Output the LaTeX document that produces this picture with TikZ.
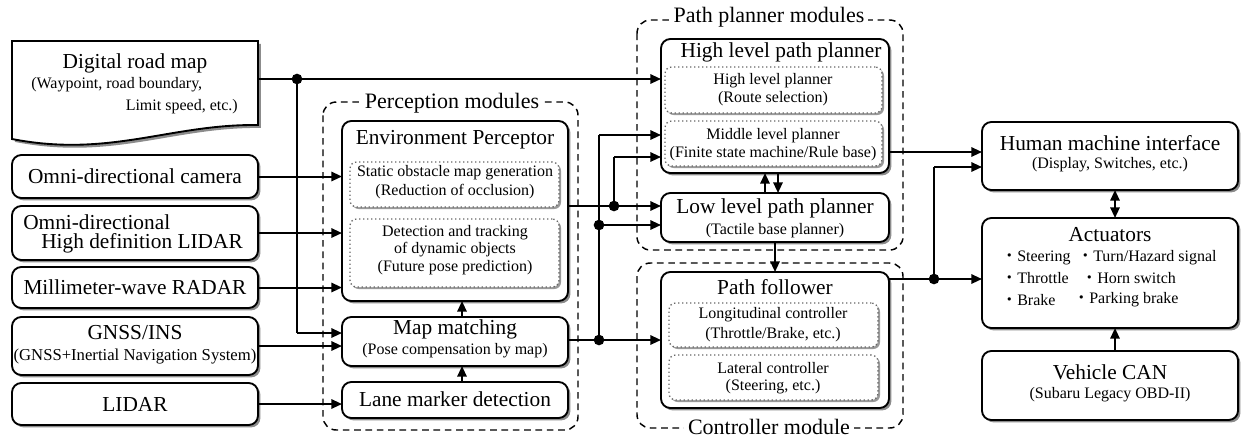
\documentclass[tikz,border=0pt]{standalone}
\usepackage{fontspec}
\setmainfont{Liberation Serif}
\newfontfamily\jfont{Noto Sans CJK JP}
\usetikzlibrary{shadows,arrows.meta,calc}
\newcommand\mybox[6]{\node[#2, anchor=north west, minimum width={(#5-#3)*0.75pt}, minimum height={(#6-#4)*0.75pt}] (#1) at (#3,#4) {};}
\begin{document}
\begin{tikzpicture}[x=0.75pt,y=-0.75pt,
 mainbox/.style={draw, line width=1.4pt, rounded corners=7pt, fill=white, inner sep=0pt, outer sep=0pt,
   drop shadow={shadow xshift=1.8pt,shadow yshift=-1.8pt,fill=black!45,opacity=1}},
 subbox/.style={draw=black!60, dotted, line width=1pt, rounded corners=5pt, fill=white, inner sep=0pt, outer sep=0pt,
   drop shadow={shadow xshift=1.5pt,shadow yshift=-1.5pt,fill=black!40,opacity=1}},
 modbox/.style={draw, line width=1.1pt, rounded corners=10pt, dash pattern=on 5pt off 3.5pt},
 modlabel/.style={fill=white, inner sep=3pt, font=\fontsize{16.5}{19}\selectfont},
 conn/.style={line width=1.5pt, -{Triangle[length=8pt,width=7pt]}},
 dconn/.style={line width=1.5pt, {Triangle[length=8pt,width=7pt]}-{Triangle[length=8pt,width=7pt]}},
 wire/.style={line width=1.5pt},
 thinwire/.style={line width=0.8pt},
 dot/.style={circle, fill, inner sep=0pt, minimum size=8pt},
 T/.style={font=\fontsize{16}{19}\selectfont, inner sep=0pt},
 S/.style={font=\fontsize{12}{14}\selectfont, inner sep=0pt},
 D/.style={font=\fontsize{12}{14}\selectfont, inner sep=0pt},
]
\useasboundingbox (0,0) rectangle (1241,437);

% module frames
\draw[modbox] (323,102) rectangle (578,430);
\node[modlabel] (perlab) at (452,103) {Perception modules};
\draw[modbox] (637,20) rectangle (903,250);
\node[modlabel] (pathlab) at (769,17) {Path planner modules};
\draw[modbox] (637,263) rectangle (903,428);
\node[modlabel] (ctrlab) at (769,427) {Controller module};

% digital road map (document shape)
\path[draw, line width=1.4pt, fill=white, drop shadow={shadow xshift=2.2pt,shadow yshift=-2.2pt,fill=black!45,opacity=1}]
  (12,41) -- (258,41) -- (258,125) .. controls (170,124) and (110,158) .. (12,139) -- cycle;
\node[T] (mapt) at (135,63) {Digital road map};
\node[S, anchor=west] (maps1) at (31,85) {(Waypoint, road boundary,};
\node[S, anchor=east] (maps2) at (238,107) {Limit speed, etc.)};
\coordinate (mapout) at (258,79);

% sensors
\mybox{cam}{mainbox}{12}{155}{258}{198}
\mybox{hdl}{mainbox}{12}{206}{258}{260}
\mybox{radar}{mainbox}{12}{267}{258}{308}
\mybox{gnss}{mainbox}{12}{317}{258}{375}
\mybox{lidar}{mainbox}{12}{383}{258}{425}
\node[T] (camt) at (cam) {Omni-directional camera};
\node[T, anchor=west] (hdlt1) at (23,222) {Omni-directional};
\node[T, anchor=east] (hdlt2) at (243,243) {High definition LIDAR};
\node[T] (radart) at (radar) {Millimeter-wave RADAR};
\node[T] (gnsst) at (135,333) {GNSS/INS};
\node[S, font=\fontsize{12.5}{14}\selectfont] (gnsss) at (135,357) {(GNSS+Inertial Navigation System)};
\node[T] (lidart) at (lidar) {LIDAR};

% perception
\mybox{envp}{mainbox}{342}{121}{568}{301}
\mybox{sog}{subbox}{350}{162}{559}{207}
\mybox{dto}{subbox}{350}{219}{559}{287}
\mybox{mm}{mainbox}{342}{317}{568}{366}
\mybox{lmd}{mainbox}{342}{382}{568}{418}
\node[T] (envpt) at (455,140) {Environment Perceptor};
\node[D] (sog1) at (455,173) {Static obstacle map generation};
\node[D] (sog2) at (455,192) {(Reduction of occlusion)};
\node[D] (dto1) at (455,233) {Detection and tracking};
\node[D] (dto2) at (455,250) {of dynamic objects};
\node[D] (dto3) at (455,268) {(Future pose prediction)};
\node[T] (mmt) at (455,329) {Map matching};
\node[S] (mms) at (455,351) {(Pose compensation by map)};
\node[T] (lmdt) at (455,399) {Lane marker detection};

% planners
\mybox{hlpp}{mainbox}{661}{39}{889}{173}
\mybox{hlp}{subbox}{665}{67}{882}{113}
\mybox{mlp}{subbox}{665}{121}{882}{166}
\mybox{llpp}{mainbox}{661}{193}{889}{242}
\node[T] (hlppt) at (781,52) {High level path planner};
\node[D] (hlp1) at (773,81) {High level planner};
\node[D] (hlp2) at (773,99) {(Route selection)};
\node[D] (mlp1) at (773,136) {Middle level planner};
\node[D] (mlp2) at (773,154) {(Finite state machine/Rule base)};
\node[T] (llppt) at (775,208) {Low level path planner};
\node[S] (llpps) at (775,231) {(Tactile base planner)};

% controller
\mybox{pf}{mainbox}{661}{272}{889}{408}
\mybox{lon}{subbox}{669}{303}{878}{347}
\mybox{lat}{subbox}{669}{355}{878}{400}
\node[T] (pft) at (775,287) {Path follower};
\node[D] (lon1) at (773,315) {Longitudinal controller};
\node[D] (lon2) at (773,335) {(Throttle/Brake, etc.)};
\node[D] (lat1) at (773,368) {Lateral controller};
\node[D] (lat2) at (773,387) {(Steering, etc.)};

% right side
\mybox{hmi}{mainbox}{982}{122}{1238}{190}
\mybox{act}{mainbox}{982}{218}{1238}{328}
\mybox{can}{mainbox}{982}{351}{1238}{420}
\node[T] (hmit) at (1110,143) {Human machine interface};
\node[S] (hmis) at (1110,165) {(Display, Switches, etc.)};
\node[T] (actt) at (1110,235) {Actuators};
\node[D, anchor=west] (b1) at (1001,258) {{\jfont ・}Steering};
\node[D, anchor=west] (b2) at (1077,258) {{\jfont ・}Turn/Hazard signal};
\node[D, anchor=west] (b3) at (1001,278) {{\jfont ・}Throttle};
\node[D, anchor=west] (b4) at (1081,278) {{\jfont ・}Horn switch};
\node[D, anchor=west] (b5) at (1001,300) {{\jfont ・}Brake};
\node[D, anchor=west] (b6) at (1073,300) {{\jfont ・}Parking brake};
\node[T] (cant) at (1110,372) {Vehicle CAN};
\node[S] (cans) at (1110,395) {(Subaru Legacy OBD-II)};

% junction coordinates
\coordinate (d1) at (297,79);
\coordinate (d1c) at (297,333);
\coordinate (eo) at (568,206);
\coordinate (d2) at (614,206);
\coordinate (d2c) at (614,157);
\coordinate (mo) at (568,340);
\coordinate (d3) at (599,340);
\coordinate (d3c) at (599,135);
\coordinate (d4) at (599,225);
\coordinate (mlpo) at (889,152);
\coordinate (pfo) at (889,279);
\coordinate (d5) at (934,279);
\coordinate (d5c) at (934,167);

% connectors
\draw[conn] (mapout) -- (mapout -| hlpp.west);
\draw[thinwire] (d1) -- (d1c);
\draw[conn] (d1c) -- (d1c -| mm.west);
\draw[conn] (cam.east) -- (cam.east -| envp.west);
\draw[conn] (hdl.east) -- (hdl.east -| envp.west);
\draw[conn] (radar.east) -- (radar.east -| envp.west);
\draw[conn] (gnss.east) -- (gnss.east -| mm.west);
\draw[conn] (lidar.east) -- (lidar.east -| lmd.west);
\draw[conn] ($(lmd.north)+(7,0)$) -- ($(mm.south)+(7,0)$);
\draw[conn] ($(mm.north)+(7,0)$) -- ($(envp.south)+(7,0)$);

\draw[conn] (eo) -- (eo -| llpp.west);
\draw[thinwire] (d2) -- (d2c);
\draw[conn] (d2c) -- (d2c -| hlpp.west);
\draw[conn] (mo) -- (mo -| pf.west);
\draw[thinwire] (d3) -- (d3c);
\draw[conn] (d3c) -- (d3c -| hlpp.west);
\draw[conn] (d4) -- (d4 -| llpp.west);

\draw[conn] ($(llpp.north)+(-10,0)$) -- ($(hlpp.south)+(-10,0)$);
\draw[conn] ($(hlpp.south)+(3,0)$) -- ($(llpp.north)+(3,0)$);
\draw[conn] (llpp.south) -- (pf.north);

\draw[conn] (mlpo) -- (mlpo -| hmi.west);
\draw[conn] (pfo) -- (pfo -| act.west);
\draw[thinwire] (d5) -- (d5c);
\draw[conn] (d5c) -- (d5c -| hmi.west);
\draw[dconn] ($(hmi.south)+(5,0)$) -- ($(act.north)+(5,0)$);
\draw[conn] ($(can.north)+(5,0)$) -- ($(act.south)+(5,0)$);

% dots
\node[dot] (n1) at (d1) {};
\node[dot] (n2) at (d2) {};
\node[dot] (n3) at (d3) {};
\node[dot] (n4) at (d4) {};
\node[dot] (n5) at (d5) {};
\end{tikzpicture}
\end{document}
